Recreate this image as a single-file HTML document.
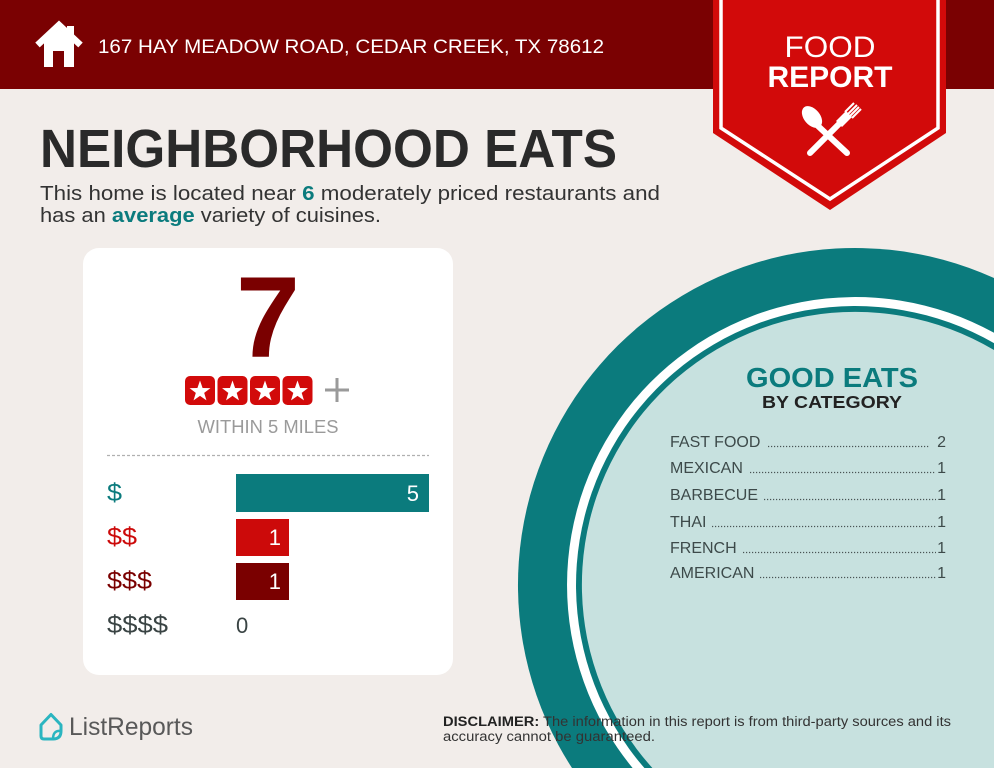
<!DOCTYPE html>
<html>
<head>
<meta charset="utf-8">
<style>
  html,body{margin:0;padding:0;background:#f2edea;width:994px;height:768px;overflow:hidden;}
  svg{display:block;}
  text{font-family:"Liberation Sans", Arial, sans-serif;}
</style>
</head>
<body>
<svg width="994" height="768" viewBox="0 0 994 768" xmlns="http://www.w3.org/2000/svg">
  <!-- background -->
  <rect x="0" y="0" width="994" height="768" fill="#f2edea"/>

  <!-- header band -->
  <rect x="0" y="0" width="994" height="89" fill="#7a0102"/>

  <!-- house icon -->
  <rect x="67" y="26" width="7" height="12" fill="#ffffff"/>
  <polyline points="37.5,45 59,25 80.5,45" fill="none" stroke="#ffffff" stroke-width="6.5" stroke-linejoin="miter" stroke-linecap="butt"/>
  <path d="M44,42 L59,29 L74,42 L74,67 L64,67 L64,51 L53,51 L53,67 L44,67 Z" fill="#ffffff"/>

  <!-- address -->
  <text x="98" y="53" font-size="19.5" fill="#ffffff" textLength="506" lengthAdjust="spacingAndGlyphs">167 HAY MEADOW ROAD, CEDAR CREEK, TX 78612</text>

  <!-- badge -->
  <path d="M713,0 L946,0 L946,133 L830,210 L713,133 Z" fill="#d20a0a"/>
  <path d="M721,0 L721,128 L830,199 L938,128 L938,0" fill="none" stroke="#ffffff" stroke-width="3.5"/>
  <text x="830" y="57" font-size="30" fill="#ffffff" text-anchor="middle" textLength="91" lengthAdjust="spacingAndGlyphs">FOOD</text>
  <text x="830" y="87" font-size="30" font-weight="bold" fill="#ffffff" text-anchor="middle" textLength="125" lengthAdjust="spacingAndGlyphs">REPORT</text>

  <!-- fork & spoon -->
  <g fill="#ffffff" stroke="#ffffff">
    <ellipse cx="0" cy="0" rx="8" ry="12.5" transform="translate(812,117) rotate(-40)" stroke="none"/>
    <line x1="818" y1="126" x2="847" y2="153" stroke-width="6" stroke-linecap="round"/>
    <line x1="810" y1="153" x2="840" y2="123" stroke-width="6" stroke-linecap="round"/>
    <path d="M836,121 L846,111 L852,117 L842,127 Z" stroke="none"/>
    <line x1="845" y1="112" x2="854" y2="103" stroke-width="2"/>
    <line x1="848" y1="114" x2="857" y2="105" stroke-width="2"/>
    <line x1="850" y1="116" x2="859" y2="107" stroke-width="2"/>
    <line x1="852" y1="118" x2="861" y2="109" stroke-width="2"/>
  </g>

  <!-- title -->
  <text x="40" y="167" font-size="54" font-weight="bold" fill="#2a2a2a" textLength="577" lengthAdjust="spacingAndGlyphs">NEIGHBORHOOD EATS</text>
  <text x="40" y="200" font-size="20" fill="#333333" textLength="620" lengthAdjust="spacingAndGlyphs">This home is located near <tspan font-weight="bold" fill="#0b7b7d">6</tspan> moderately priced restaurants and</text>
  <text x="40" y="222" font-size="20" fill="#333333" textLength="341" lengthAdjust="spacingAndGlyphs">has an <tspan font-weight="bold" fill="#0b7b7d">average</tspan> variety of cuisines.</text>

  <!-- card -->
  <rect x="83" y="248" width="370" height="427" rx="16" ry="16" fill="#ffffff"/>
  <text x="268" y="357" font-size="115" font-weight="bold" fill="#7a0000" text-anchor="middle">7</text>

  <!-- stars -->
  <g>
    <rect x="185" y="376" width="30" height="29" rx="5" fill="#d20a0a"/>
    <rect x="217.5" y="376" width="30" height="29" rx="5" fill="#d20a0a"/>
    <rect x="250" y="376" width="30" height="29" rx="5" fill="#d20a0a"/>
    <rect x="282.5" y="376" width="30" height="29" rx="5" fill="#d20a0a"/>
    <g fill="#ffffff">
      <polygon transform="translate(200,391.5)" points="0,-11 2.59,-3.56 10.46,-3.4 4.18,1.36 6.47,8.9 0,4.4 -6.47,8.9 -4.18,1.36 -10.46,-3.4 -2.59,-3.56"/>
      <polygon transform="translate(232.5,391.5)" points="0,-11 2.59,-3.56 10.46,-3.4 4.18,1.36 6.47,8.9 0,4.4 -6.47,8.9 -4.18,1.36 -10.46,-3.4 -2.59,-3.56"/>
      <polygon transform="translate(265,391.5)" points="0,-11 2.59,-3.56 10.46,-3.4 4.18,1.36 6.47,8.9 0,4.4 -6.47,8.9 -4.18,1.36 -10.46,-3.4 -2.59,-3.56"/>
      <polygon transform="translate(297.5,391.5)" points="0,-11 2.59,-3.56 10.46,-3.4 4.18,1.36 6.47,8.9 0,4.4 -6.47,8.9 -4.18,1.36 -10.46,-3.4 -2.59,-3.56"/>
    </g>
    <line x1="325" y1="390" x2="349" y2="390" stroke="#9a9a9a" stroke-width="3"/>
    <line x1="337" y1="378" x2="337" y2="402" stroke="#9a9a9a" stroke-width="3"/>
  </g>
  <text x="268" y="433" font-size="18" fill="#9a9a9a" text-anchor="middle" textLength="141" lengthAdjust="spacingAndGlyphs">WITHIN 5 MILES</text>

  <line x1="107" y1="455.5" x2="429" y2="455.5" stroke="#b0b0b0" stroke-width="1.2" stroke-dasharray="3 2"/>

  <!-- bars -->
  <rect x="236" y="474" width="193" height="38" fill="#0b7b7d"/>
  <rect x="236" y="519" width="53" height="37" fill="#cc0a0a"/>
  <rect x="236" y="563" width="53" height="37" fill="#7a0000"/>
  <text x="419" y="501" font-size="22" fill="#ffffff" text-anchor="end">5</text>
  <text x="281" y="545" font-size="22" fill="#ffffff" text-anchor="end">1</text>
  <text x="281" y="589" font-size="22" fill="#ffffff" text-anchor="end">1</text>
  <text x="236" y="633" font-size="22" fill="#3a4444">0</text>

  <text x="107" y="501" font-size="25" fill="#0b7b7d" textLength="15" lengthAdjust="spacingAndGlyphs">$</text>
  <text x="107" y="545" font-size="25" fill="#cc0a0a" textLength="30" lengthAdjust="spacingAndGlyphs">$$</text>
  <text x="107" y="589" font-size="25" fill="#7a0000" textLength="45" lengthAdjust="spacingAndGlyphs">$$$</text>
  <text x="107" y="633" font-size="25" fill="#3a4444" textLength="61" lengthAdjust="spacingAndGlyphs">$$$$</text>

  <!-- circle (pre-clipped to frame) -->
  <path d="M572,768 A337,337 0 0 1 994,278 L994,768 Z" fill="#0b7b7d"/>
  <path d="M632.6,768 A288,288 0 0 1 994,332.8 L994,768 Z" fill="#ffffff"/>
  <path d="M644.4,768 A279,279 0 0 1 994,343.1 L994,768 Z" fill="#0b7b7d"/>
  <path d="M652.4,768 A273,273 0 0 1 994,350 L994,768 Z" fill="#c7e1df"/>

  <text x="746" y="387" font-size="28" font-weight="bold" fill="#0b7b7d" textLength="172" lengthAdjust="spacingAndGlyphs">GOOD EATS</text>
  <text x="762" y="408" font-size="17.5" font-weight="bold" fill="#222222" textLength="140" lengthAdjust="spacingAndGlyphs">BY CATEGORY</text>

  <g font-size="16" fill="#3d4a4a">
    <text x="670" y="447">FAST FOOD</text>
    <text x="670" y="473">MEXICAN</text>
    <text x="670" y="500">BARBECUE</text>
    <text x="670" y="527">THAI</text>
    <text x="670" y="553">FRENCH</text>
    <text x="670" y="578">AMERICAN</text>
    <text x="946" y="447" text-anchor="end">2</text>
    <text x="946" y="473" text-anchor="end">1</text>
    <text x="946" y="500" text-anchor="end">1</text>
    <text x="946" y="527" text-anchor="end">1</text>
    <text x="946" y="553" text-anchor="end">1</text>
    <text x="946" y="578" text-anchor="end">1</text>
  </g>
  <g stroke="#4a5555" stroke-width="1.3" stroke-dasharray="1.2 1.8">
    <line x1="768" y1="446.5" x2="929" y2="446.5"/>
    <line x1="750" y1="472.5" x2="936" y2="472.5"/>
    <line x1="764" y1="499.5" x2="936" y2="499.5"/>
    <line x1="712" y1="526.5" x2="936" y2="526.5"/>
    <line x1="743" y1="552.5" x2="936" y2="552.5"/>
    <line x1="760" y1="577.5" x2="936" y2="577.5"/>
  </g>

  <!-- footer logo -->
  <path d="M41,725 L51,714.5 L61,725 L61,731 Q61,739 53,739 L44,739 Q41,739 41,736 Z" fill="none" stroke="#2bb5c0" stroke-width="3" stroke-linejoin="round"/>
  <path d="M61,731 Q53,730 53,739" fill="none" stroke="#2bb5c0" stroke-width="2.5"/>
  <text x="69" y="735" font-size="25" fill="#595959" textLength="124" lengthAdjust="spacingAndGlyphs">ListReports</text>

  <!-- disclaimer -->
  <text x="443" y="726" font-size="13.5" fill="#333333" textLength="508" lengthAdjust="spacingAndGlyphs"><tspan font-weight="bold" fill="#222222">DISCLAIMER:</tspan> The information in this report is from third-party sources and its</text>
  <text x="443" y="741" font-size="13.5" fill="#333333" textLength="212" lengthAdjust="spacingAndGlyphs">accuracy cannot be guaranteed.</text>
</svg>
</body>
</html>
